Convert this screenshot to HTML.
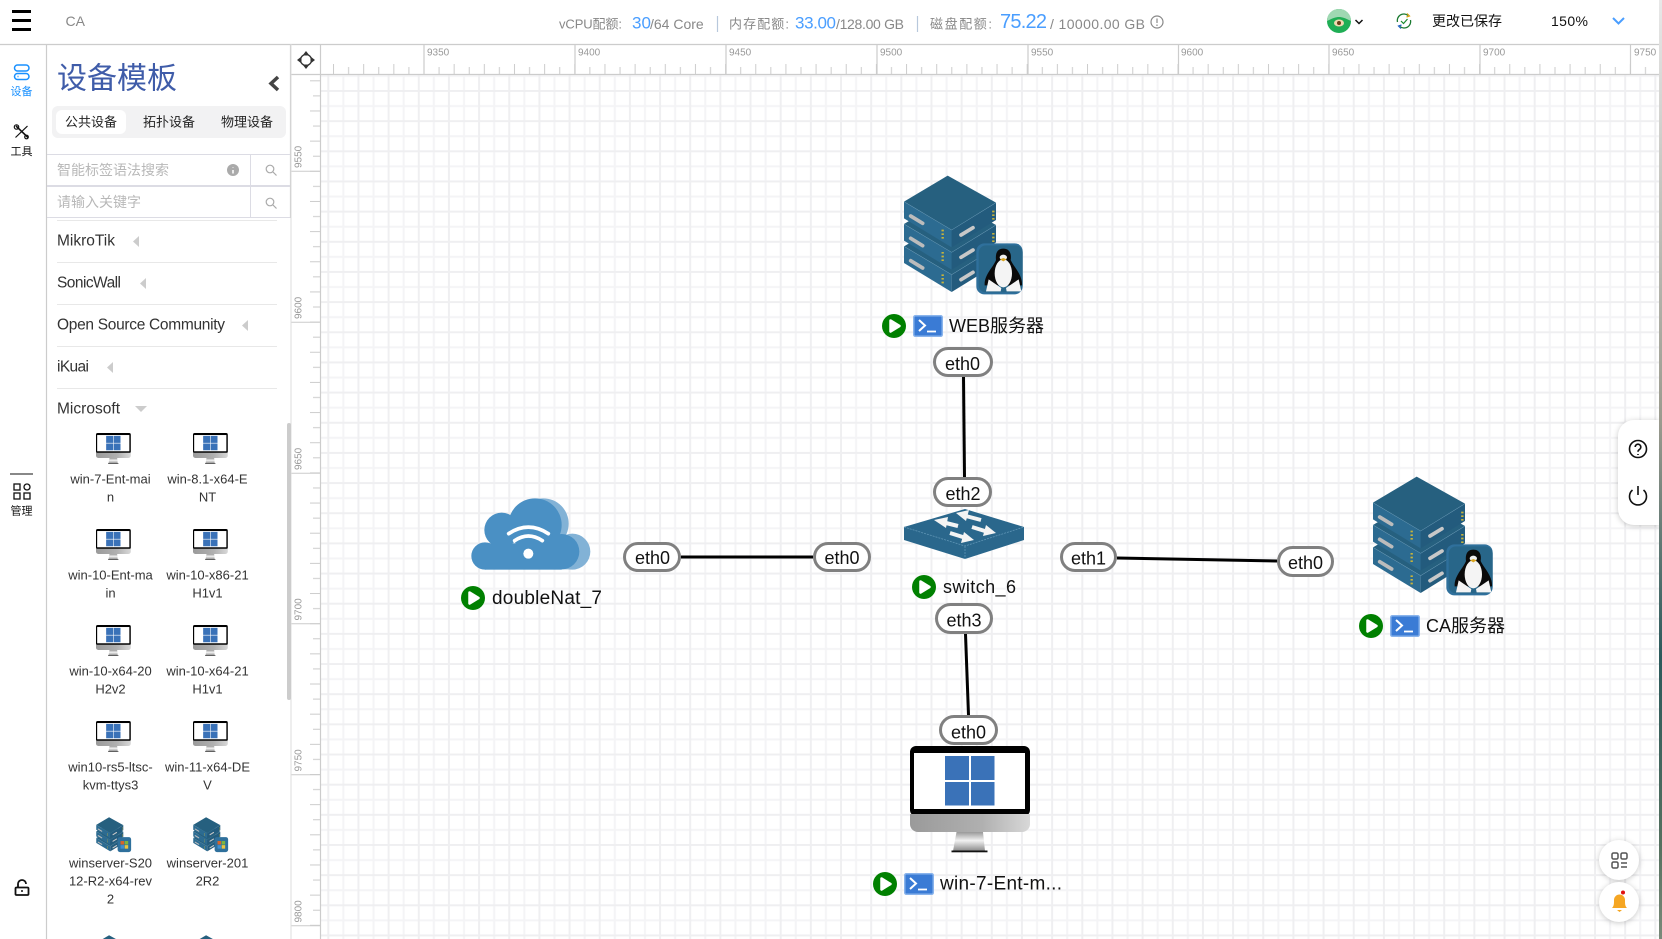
<!DOCTYPE html>
<html lang="zh">
<head>
<meta charset="utf-8">
<title>CA</title>
<style>
html,body{margin:0;padding:0;width:1662px;height:939px;overflow:hidden;background:#fff}
svg{display:block;font-family:"Liberation Sans","Noto Sans CJK SC",sans-serif}
text{dominant-baseline:central}
.r{font-size:10px;fill:#999}
.g{font-size:14px;fill:#888}
.c{font-size:13px;fill:#888}
.b{fill:#4a9eff}
.l{font-size:15.5px;fill:#333}
.d{font-size:13px;fill:#333;text-anchor:middle}
.t{font-size:13px;fill:#222;text-anchor:middle}
.p{font-size:14px;fill:#b8b8b8}
.n{font-size:18px;fill:#111}
.e{font-size:18px;fill:#111;text-anchor:middle}
.pill{fill:#fff;stroke:#808080;stroke-width:3}
.s{font-size:11px;text-anchor:middle}
</style>
</head>
<body>
<svg width="1662" height="939" viewBox="0 0 1662 939" xmlns="http://www.w3.org/2000/svg">
<defs>
<pattern id="grid" patternUnits="userSpaceOnUse" x="327.30" y="90" width="30.16" height="30.16">
<path d="M16.08 0V30.16M0 16.08H30.16" stroke="#f4f4f6" stroke-width="2" fill="none"/>
<path d="M1 0V30.16M0 1H30.16" stroke="#efeff1" stroke-width="2" fill="none"/>
</pattern>
<pattern id="tx" patternUnits="userSpaceOnUse" x="423.5" y="64" width="30.16" height="10">
<path d="M.5 0V10M15.58 3V10" stroke="#ccc" stroke-width="1" fill="none"/>
</pattern>
<pattern id="ty" patternUnits="userSpaceOnUse" x="310" y="170.8" width="10" height="30.16">
<path d="M0 .5H10M3 15.58H10" stroke="#ccc" stroke-width="1" fill="none"/>
</pattern>
<linearGradient id="chin" x1="0" x2="1" y1="0" y2="0"><stop offset="0" stop-color="#9a9a9a"/><stop offset=".6" stop-color="#b0b0b0"/><stop offset="1" stop-color="#d8d8d8"/></linearGradient>
<linearGradient id="stand" x1="0" x2="0" y1="0" y2="1"><stop offset="0" stop-color="#999"/><stop offset=".45" stop-color="#f2f2f2"/><stop offset="1" stop-color="#8a8a8a"/></linearGradient>
<linearGradient id="edge" x1="0" x2="0" y1="0" y2="1"><stop offset="0" stop-color="#e8e8e8"/><stop offset=".45" stop-color="#9a9a8e"/><stop offset=".7" stop-color="#2c5a5c"/><stop offset=".9" stop-color="#55705f"/><stop offset="1" stop-color="#7a8a7a"/></linearGradient>

<g id="lay">
<polygon fill="#2c6b91" points="132,125 275,210 275,262 132,175"/>
<polygon fill="#235b7d" points="275,210 408,128 408,180 275,262"/>
<polygon fill="#26607f" points="263,47 408,128 275,210 132,125"/>
<polyline fill="none" stroke="#6f9fba" stroke-width="1.5" points="132,125 275,210 408,128"/>
<line x1="152" y1="168" x2="188" y2="190" stroke="#bcbcbc" stroke-width="11" stroke-linecap="round"/>
<line x1="303" y1="225" x2="339" y2="203" stroke="#c8c8c8" stroke-width="11" stroke-linecap="round"/>
<path d="M248 209v5M248 220v5M248 231v5M400 152v5M400 163v5M400 174v5" stroke="#c9b43a" stroke-width="7"/>
</g>
<g id="stack">
<use href="#lay" transform="translate(0,134)"/>
<use href="#lay" transform="translate(0,67)"/>
<use href="#lay"/>
</g>
<g id="tux">
<rect x="349" y="250" width="139" height="153" rx="24" fill="#2f709c"/>
<rect x="356" y="256" width="132" height="141" rx="22" fill="#286689"/>
<path d="M430 266c-20 0-24 17-22 34c-8 22-36 44-34 76l112 0c2-32-24-54-34-76c3-17-2-34-22-34z" fill="#0a0a0a"/>
<ellipse cx="430" cy="340" rx="26" ry="42" fill="#f4f4f4"/>
<ellipse cx="430" cy="292" rx="11" ry="8" fill="#f0f0f0"/>
<path d="M420 298l10-4l10 4l-10 6z" fill="#d9a520"/>
<path d="M378 394l8-36l38 26l-2 10zM484 394l-8-36l-38 26l2 10z" fill="#f4f4f4"/>
</g>
<g id="winb">
<rect x="350" y="250" width="138" height="153" rx="24" fill="#2f709c"/>
<rect x="380" y="290" width="36" height="36" fill="#d8642a"/><rect x="422" y="290" width="36" height="36" fill="#7fb53d"/>
<rect x="380" y="332" width="36" height="36" fill="#3f8fd0"/><rect x="422" y="332" width="36" height="36" fill="#edc53c"/>
</g>
<g id="mon">
<rect x="0" y="0" width="120" height="70" rx="6" fill="#000"/>
<rect x="4" y="7" width="111" height="56" fill="#fff"/>
<path d="M0 68H120V78a8 8 0 0 1-8 8H8a8 8 0 0 1-8-8z" fill="url(#chin)"/>
<polygon points="46.5,86 73,86 75,105 43,105" fill="url(#stand)"/>
<rect x="41.5" y="104.5" width="36" height="1.8" fill="#111"/>
<path d="M35 10h24v24h-24zM61 10h23.500v24h-23.500zM35 36h24v23.500h-24zM61 36h23.500v23.500h-23.500z" fill="#3a72b8"/>
</g>
<g id="term">
<rect x=".75" y=".75" width="28.500" height="20.500" rx="1.500" fill="#3a7bd5" stroke="#8ab4ec" stroke-width="1.500"/>
<path d="M6 5l6 5.500l-6 5.500" fill="none" stroke="#fff" stroke-width="2"/>
<path d="M14 16.500h9" stroke="#fff" stroke-width="1.800"/>
</g>
<g id="play">
<circle r="12" fill="#008000"/>
<polygon points="-3.500,-5.500 5.500,0 -3.500,5.500" fill="#fff" stroke="#fff" stroke-width="2.500" stroke-linejoin="round"/>
</g>
</defs>

<rect width="1662" height="939" fill="#fff"/>
<rect x="321" y="75" width="1338" height="864" fill="url(#grid)"/>

<!-- rulers -->
<rect x="321" y="45" width="1338" height="29" fill="#fff"/>
<rect x="291" y="75" width="29" height="864" fill="#fff"/>
<rect x="321" y="64" width="1338" height="10" fill="url(#tx)"/>
<rect x="310" y="75" width="10" height="864" fill="url(#ty)"/>
<path d="M424 44V74M575 44V74M726 44V74M877 44V74M1028 44V74M1178.500 44V74M1329 44V74M1480 44V74M1630.500 44V74" stroke="#ccc" stroke-width="1.200"/>
<path d="M291 171.300H320M291 322.300H320M291 473.300H320M291 623.800H320M291 774.800H320M291 925.800H320" stroke="#ccc" stroke-width="1"/>
<g class="r">
<text x="427" y="53">9350</text><text x="578" y="53">9400</text><text x="729" y="53">9450</text><text x="880" y="53">9500</text><text x="1031" y="53">9550</text><text x="1181" y="53">9600</text><text x="1332" y="53">9650</text><text x="1483" y="53">9700</text><text x="1634" y="53">9750</text>
<text transform="translate(299,168) rotate(-90)">9550</text>
<text transform="translate(299,319) rotate(-90)">9600</text>
<text transform="translate(299,470) rotate(-90)">9650</text>
<text transform="translate(299,620.500) rotate(-90)">9700</text>
<text transform="translate(299,771.500) rotate(-90)">9750</text>
<text transform="translate(299,922.500) rotate(-90)">9800</text>
</g>
<path d="M0 44.500H1659" stroke="#ccc" stroke-width="1.300"/>
<path d="M291 74.500H1659M320.500 44V939M290.500 44V218M46.500 44V939" stroke="#ccc" stroke-width="1.200" fill="none"/>
<path d="M291 44V939" stroke="#ddd" stroke-width="1"/>
<!-- corner icon -->
<g transform="translate(306,60)" fill="#333">
<circle r="5.500" fill="none" stroke="#333" stroke-width="1.300"/>
<path d="M0-9l3.500 4.500h-7zM0 9l3.500-4.500h-7zM-9 0l4.500-3.500v7zM9 0l-4.500-3.500v7z"/>
</g>

<!-- header -->
<path d="M12 11.500h19M12 20.500h19M12 29.500h19" stroke="#000" stroke-width="3"/>
<text x="65.500" y="21" font-size="14" fill="#888">CA</text>
<text class="c" x="559" y="24" textLength="63">vCPU配额:</text>
<text class="b" x="632" y="23" font-size="17">30</text>
<text class="g" x="650" y="24">/64 Core</text>
<path d="M717.500 16V32" stroke="#b8c8dc" stroke-width="1.200"/>
<text class="c" x="729" y="24" textLength="60">内存配额:</text>
<text class="b" x="795" y="23" font-size="17" textLength="41">33.00</text>
<text class="g" x="836" y="24" textLength="68">/128.00 GB</text>
<path d="M917.500 16V32" stroke="#b8c8dc" stroke-width="1.200"/>
<text class="c" x="930" y="24" textLength="62">磁盘配额:</text>
<text class="b" x="1000" y="22" font-size="20" textLength="47">75.22</text>
<text class="g" x="1050" y="24" textLength="95">/ 10000.00 GB</text>
<g transform="translate(1157,22)"><circle r="6" fill="none" stroke="#888" stroke-width="1.200"/><path d="M0-3.500V1M0 2.500V4" stroke="#888" stroke-width="1.200"/></g>

<g transform="translate(1339,21)">
<circle r="12" fill="#1fae55"/>
<path d="M-12 0A12 12 0 0 1 12 0C6-3 3-4 0-4S-6-3-12 0z" fill="#9fd8b2"/>
<ellipse cy="2" rx="5" ry="3.500" fill="#f0d8b0"/>
<circle cy="2" r="2" fill="#6a4018"/>
</g>
<path d="M1355.500 20l3.500 3.500l3.500-3.500" fill="none" stroke="#111" stroke-width="1.500"/>
<g transform="translate(1404,21)" fill="none">
<path d="M-6.500 1A6.500 6.500 0 0 1 4-5.500" stroke="#1a7a30" stroke-width="1.300"/>
<path d="M6.500-1A6.500 6.500 0 0 1-4 5.500" stroke="#1a7a30" stroke-width="1.300"/>
<path d="M-3 0l2.500 2.500l4-4.500" stroke="#1a8a30" stroke-width="1.200"/>
<path d="M3-7.500l2.500 2.500l-3 1" stroke="#d8a010" stroke-width="1.200"/>
<path d="M-3 7.500l-2.500-2.500l3-1" stroke="#2060c0" stroke-width="1.200"/>
</g>
<text x="1432" y="21" font-size="14" fill="#111">更改已保存</text>
<text x="1551" y="21" font-size="14" fill="#111" textLength="37">150%</text>
<path d="M1613 18l5.500 5.500l5.500-5.500" fill="none" stroke="#4a9eff" stroke-width="2"/>

<!-- left icon bar -->
<g fill="none" stroke="#1890ff" stroke-width="1.500">
<rect x="14.500" y="65" width="14.500" height="6" rx="3"/>
<rect x="14.500" y="73.500" width="14.500" height="6" rx="3"/>
<path d="M17.500 76.500h1"/>
</g>
<text class="s" x="21.500" y="92" fill="#1890ff">设备</text>
<g fill="none" stroke="#111" stroke-width="1.200">
<path d="M15.500 137.500L27.500 126"/><path d="M16 126L28 137.500" stroke-width="1.600"/>
<circle cx="16.500" cy="127" r="2.200"/><circle cx="26.500" cy="137" r="1.800"/>
</g>
<text class="s" x="21.500" y="152" fill="#111">工具</text>
<path d="M10 474H33" stroke="#888" stroke-width="2"/>
<g fill="none" stroke="#111" stroke-width="1.300">
<rect x="14" y="484" width="6" height="6"/><rect x="24" y="484" width="6" height="6" rx="3"/>
<rect x="14" y="493" width="6" height="6"/><rect x="24" y="493" width="6" height="6"/>
</g>
<text class="s" x="21.500" y="511.500" fill="#111">管理</text>
<g fill="none" stroke="#111" stroke-width="1.800">
<rect x="15.500" y="887.500" width="13" height="7.500" rx="1"/>
<path d="M18 887v-3a4 4 0 0 1 8 0"/>
</g>
<circle cx="22" cy="891" r="1" fill="#111"/>

<!-- panel -->
<text x="57" y="79" font-size="30" fill="#3f5ca9">设备模板</text>
<path d="M278 77l-7 6.500l7 6.500" fill="none" stroke="#444" stroke-width="3.500"/>
<rect x="52" y="106" width="234" height="32" rx="6" fill="#f2f2f3"/>
<rect x="56" y="110" width="70" height="24" rx="6" fill="#fff"/>
<text class="t" x="91" y="122">公共设备</text>
<text class="t" x="169" y="122">拓扑设备</text>
<text class="t" x="247" y="122">物理设备</text>
<path d="M47 154.500H290M47 217.500H290M250.500 154V217" stroke="#dcdce4" stroke-width="1"/>
<path d="M47 186H290" stroke="#dcdce4" stroke-width="2"/>
<path d="M57 220.500H277M57 262.500H277M57 304.500H277M57 346.500H277M57 388.500H277" stroke="#e8e8e8" stroke-width="1"/>
<text class="p" x="57" y="170">智能标签语法搜索</text>
<text class="p" x="57" y="202">请输入关键字</text>
<circle cx="233" cy="170" r="6" fill="#aaa"/>
<path d="M233 167.500v.5M233 170v3.500" stroke="#fff" stroke-width="1.500"/>
<g fill="none" stroke="#aaa" stroke-width="1.200">
<circle cx="270" cy="169" r="3.800"/><path d="M273 172l3.500 3.500"/>
<circle cx="270" cy="202" r="3.800"/><path d="M273 205l3.500 3.500"/>
</g>
<text class="l" x="57" y="241" textLength="58">MikroTik</text>
<text class="l" x="57" y="283" textLength="64">SonicWall</text>
<text class="l" x="57" y="325" textLength="168">Open Source Community</text>
<text class="l" x="57" y="367" textLength="32">iKuai</text>
<text class="l" x="57" y="409" textLength="63">Microsoft</text>
<g fill="#ccc">
<polygon points="139,236 133,241.500 139,247"/>
<polygon points="146,278 140,283.500 146,289"/>
<polygon points="248,320 242,325.500 248,331"/>
<polygon points="113,362 107,367.500 113,373"/>
<polygon points="135,406 147,406 141,412"/>
</g>
<rect x="287" y="423" width="4" height="277" rx="2" fill="#ccc"/>

<use href="#mon" transform="translate(96,433) scale(.29)"/>
<use href="#mon" transform="translate(193,433) scale(.29)"/>
<use href="#mon" transform="translate(96,529) scale(.29)"/>
<use href="#mon" transform="translate(193,529) scale(.29)"/>
<use href="#mon" transform="translate(96,625) scale(.29)"/>
<use href="#mon" transform="translate(193,625) scale(.29)"/>
<use href="#mon" transform="translate(96,721) scale(.29)"/>
<use href="#mon" transform="translate(193,721) scale(.29)"/>
<g transform="translate(83.300,812.600) scale(.098)"><use href="#stack"/><use href="#winb"/></g>
<g transform="translate(180.300,812.600) scale(.098)"><use href="#stack"/><use href="#winb"/></g>
<g transform="translate(83.300,930.600) scale(.098)"><use href="#stack"/></g>
<g transform="translate(180.300,930.600) scale(.098)"><use href="#stack"/></g>

<text class="d" x="110.500" y="479">win-7-Ent-mai</text><text class="d" x="110.500" y="497">n</text>
<text class="d" x="207.500" y="479">win-8.1-x64-E</text><text class="d" x="207.500" y="497">NT</text>
<text class="d" x="110.500" y="575">win-10-Ent-ma</text><text class="d" x="110.500" y="593">in</text>
<text class="d" x="207.500" y="575">win-10-x86-21</text><text class="d" x="207.500" y="593">H1v1</text>
<text class="d" x="110.500" y="671">win-10-x64-20</text><text class="d" x="110.500" y="689">H2v2</text>
<text class="d" x="207.500" y="671">win-10-x64-21</text><text class="d" x="207.500" y="689">H1v1</text>
<text class="d" x="110.500" y="767">win10-rs5-ltsc-</text><text class="d" x="110.500" y="785">kvm-ttys3</text>
<text class="d" x="207.500" y="767">win-11-x64-DE</text><text class="d" x="207.500" y="785">V</text>
<text class="d" x="110.500" y="863">winserver-S20</text><text class="d" x="110.500" y="881">12-R2-x64-rev</text><text class="d" x="110.500" y="899">2</text>
<text class="d" x="207.500" y="863">winserver-201</text><text class="d" x="207.500" y="881">2R2</text>

<!-- connectors -->
<g stroke="#000" stroke-width="3" fill="none">
<path d="M963.500 376L964.500 477"/>
<path d="M681 557H813"/>
<path d="M1117 558L1277 561"/>
<path d="M965.500 634L968.500 715"/>
</g>

<!-- WEB server -->
<g transform="translate(860,160) scale(.33333)"><use href="#stack"/><use href="#tux"/></g>
<use href="#play" x="894" y="326"/>
<use href="#term" x="913" y="315"/>
<text class="n" x="949" y="326">WEB服务器</text>
<rect class="pill" x="934.500" y="348.500" width="57" height="27" rx="13.500"/>
<text class="e" x="962.500" y="364">eth0</text>

<!-- CA server -->
<g transform="translate(1329,461) scale(.33333)"><use href="#stack"/></g>
<g transform="translate(1330,461) scale(.33333)"><use href="#tux"/></g>
<use href="#play" x="1371" y="626"/>
<use href="#term" x="1390" y="615"/>
<text class="n" x="1426" y="626">CA服务器</text>
<rect class="pill" x="1278.500" y="547.500" width="54" height="28" rx="14"/>
<text class="e" x="1305.500" y="563">eth0</text>

<!-- switch -->
<polygon points="965,509 1024,527 1024,540 965,559 904,540 904,527" fill="#2a678c"/>
<path d="M904 527L965 546L1024 527M965 546V559" fill="none" stroke="#5f95b5" stroke-width=".8" stroke-dasharray="2 1"/>
<g fill="none" stroke="#f4f4f4" stroke-width="4">
<path d="M981 520L962 515"/><path d="M958 526L942 522"/><path d="M950 533L966 538"/><path d="M972 527L988 532"/>
</g>
<g fill="#f4f4f4">
<polygon points="956,513 969,510 966,521"/><polygon points="934,520 948,517 946,528"/><polygon points="974,540 961,543 964,532"/><polygon points="996,533 983,536 986,525"/>
</g>
<use href="#play" x="924" y="587"/>
<text class="n" x="943" y="587" textLength="73">switch_6</text>
<rect class="pill" x="934.500" y="478.500" width="56" height="27" rx="13.500"/>
<text class="e" x="963" y="494">eth2</text>
<rect class="pill" x="936.500" y="604.500" width="55" height="28" rx="14"/>
<text class="e" x="964" y="620.500">eth3</text>
<rect class="pill" x="1061.500" y="543.500" width="54" height="27" rx="13.500"/>
<text class="e" x="1088.500" y="558.500">eth1</text>

<!-- cloud -->
<g transform="translate(450,480) scale(.33333)">
<g fill="#82b2d6">
<circle cx="280" cy="131" r="76"/><circle cx="367" cy="215" r="54"/><rect x="280" y="200" width="90" height="68"/>
</g>
<g fill="#4a90c4">
<circle cx="105" cy="228" r="41"/><circle cx="155" cy="150" r="52"/><circle cx="255" cy="135" r="80"/><circle cx="335" cy="215" r="53"/><rect x="105" y="190" width="230" height="79"/>
</g>
<g fill="none" stroke="#fff" stroke-width="11" stroke-linecap="round">
<path d="M176 161Q235 122 295 161"/><path d="M194 182Q235 154 277 182"/>
</g>
<circle cx="235" cy="221" r="15" fill="#fff"/>
</g>
<use href="#play" x="473" y="598"/>
<text x="492" y="598.500" font-size="19" fill="#111" textLength="110">doubleNat_7</text>
<rect class="pill" x="624.500" y="543.500" width="55" height="27" rx="13.500"/>
<text class="e" x="652.500" y="558">eth0</text>
<rect class="pill" x="814.500" y="543.500" width="55" height="27" rx="13.500"/>
<text class="e" x="842" y="558">eth0</text>

<!-- monitor -->
<use href="#mon" x="910" y="746"/>
<rect class="pill" x="940.500" y="716.500" width="56" height="27" rx="13.500"/>
<text class="e" x="968.500" y="732.500">eth0</text>
<use href="#play" x="885" y="884"/>
<use href="#term" x="904" y="873"/>
<text x="940" y="884" font-size="19" fill="#111" textLength="122">win-7-Ent-m...</text>

<!-- right floating -->
<g style="filter:drop-shadow(0 1px 3px rgba(0,0,0,.22))">
<path d="M1659 420H1634a16 16 0 0 0-16 16V509a16 16 0 0 0 16 16H1659z" fill="#fff"/>
<circle cx="1619" cy="860" r="20" fill="#fff"/>
<circle cx="1619" cy="902" r="20" fill="#fff"/>
</g>
<g fill="none" stroke="#111" stroke-width="1.600">
<circle cx="1638" cy="449" r="8.500"/>
<path d="M1635.200 447a2.800 2.800 0 1 1 4.300 2.400c-1 .6-1.500 1.200-1.500 2.400"/>
<path d="M1638 454v1"/>
<path d="M1632.500 490a8.500 8.500 0 1 0 11 0M1638 486v9"/>
</g>
<g fill="none" stroke="#555" stroke-width="1.500">
<rect x="1612" y="853" width="6" height="6" rx="1.500"/><rect x="1621" y="853" width="6" height="6" rx="1.500"/><rect x="1612" y="862" width="6" height="6" rx="1.500"/>
<path d="M1621 863h6M1621 867h6"/>
</g>
<path d="M1612 908c2-2 2-4 2-8a5.500 5.500 0 0 1 11 0c0 4 0 6 2 8z" fill="#f5a623"/>
<path d="M1617 910h5l-2.500 2z" fill="#f5a623"/>
<circle cx="1623" cy="892.500" r="2" fill="#e01010"/>

<rect x="1659" y="0" width="3" height="939" fill="url(#edge)"/>
</svg>
</body>
</html>
